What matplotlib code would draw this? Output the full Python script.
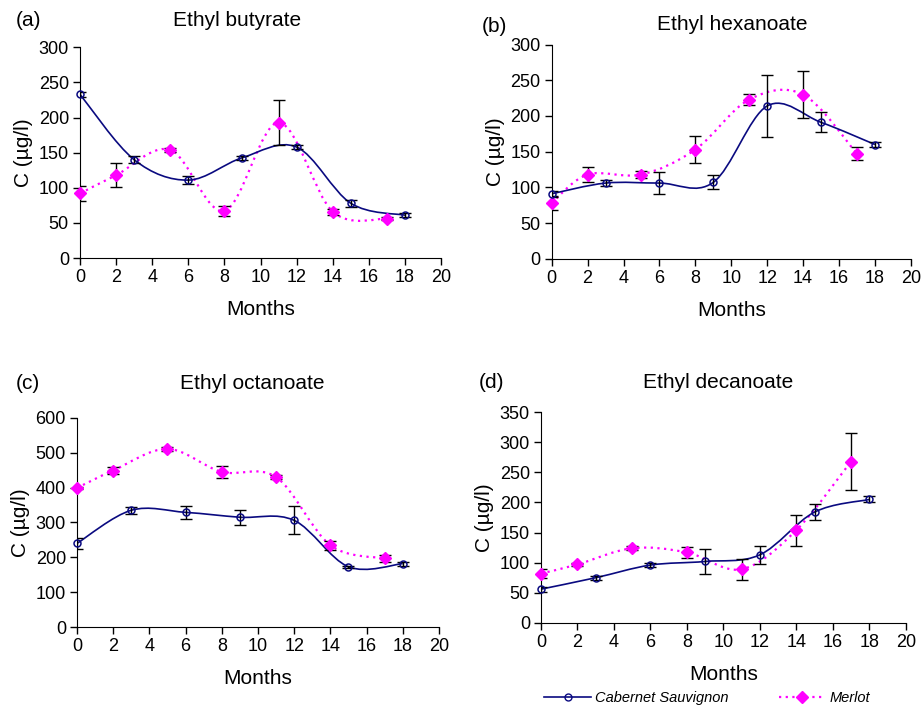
"""Ethyl ester evolution in Cabernet Sauvignon and Merlot wines, 4 panels."""
import matplotlib

matplotlib.use("Agg")
import matplotlib.pyplot as plt  # noqa: E402
from matplotlib.lines import Line2D  # noqa: E402
from matplotlib.patches import PathPatch  # noqa: E402
from matplotlib.path import Path  # noqa: E402
import numpy as np  # noqa: E402

plt.rcParams["font.family"] = ["Liberation Sans", "DejaVu Sans"]

NAVY, MAGENTA = "#0a0a80", "#ff00ff"

# months sampled
cab_months = [0, 3, 6, 9, 12, 15, 18]
mer_months = [0, 2, 5, 8, 11, 14, 17]

# (a) ethyl butyrate
a_cab = [233, 140, 111, 143, 158, 78, 61]
a_cab_err = [4, 5, 6, 3, 3, 5, 3]
a_mer = [92, 118, 154, 67, 193, 66, 56]
a_mer_err = [11, 17, 3, 7, 32, 4, 2]

# (b) ethyl hexanoate
b_cab = [91, 106, 106, 107, 214, 191, 160]
b_cab_err = [4, 4, 15, 10, 43, 14, 4]
b_mer = [78, 118, 118, 153, 223, 230, 147]
b_mer_err = [10, 10, 5, 19, 8, 33, 9]

# (c) ethyl octanoate
c_cab = [240, 335, 329, 315, 306, 173, 182]
c_cab_err = [15, 10, 18, 22, 40, 3, 6]
c_mer = [399, 449, 511, 445, 430, 235, 197]
c_mer_err = [4, 10, 6, 17, 5, 13, 10]

# (d) ethyl decanoate
d_cab = [56, 75, 96, 102, 113, 184, 205]
d_cab_err = [4, 3, 3, 21, 15, 13, 5]
d_mer = [82, 97, 124, 117, 89, 154, 268]
d_mer_err = [8, 2, 3, 9, 17, 26, 47]

panels = [
    ("(a)", "Ethyl butyrate", a_cab, a_cab_err, a_mer, a_mer_err, 300, 50),
    ("(b)", "Ethyl hexanoate", b_cab, b_cab_err, b_mer, b_mer_err, 300, 50),
    ("(c)", "Ethyl octanoate", c_cab, c_cab_err, c_mer, c_mer_err, 600, 100),
    ("(d)", "Ethyl decanoate", d_cab, d_cab_err, d_mer, d_mer_err, 350, 50),
]

# axes rectangles (fig fraction) and title anchors (pixels)
rects = [
    [0.0869, 0.635, 0.392, 0.298],
    [0.599, 0.634, 0.390, 0.303],
    [0.0836, 0.113, 0.393, 0.296],
    [0.5874, 0.119, 0.396, 0.298],
]
label_pos = [(16, 21), (482, 26), (16, 383), (479, 382)]
title_pos = [(237, 21), (732, 25), (252, 383), (718, 382)]


def smooth(ax, x, y, **kw):
    """Excel-like smoothed line: Catmull-Rom as cubic Bezier segments."""
    p = np.column_stack([x, y]).astype(float)
    pts = np.vstack([p[0], p, p[-1]])
    verts, codes = [p[0]], [Path.MOVETO]
    for i in range(1, len(pts) - 2):
        c1 = pts[i] + (pts[i + 1] - pts[i - 1]) / 6
        c2 = pts[i + 1] - (pts[i + 2] - pts[i]) / 6
        verts += [c1, c2, pts[i + 1]]
        codes += [Path.CURVE4] * 3
    ax.add_patch(PathPatch(Path(verts, codes), fill=False, **kw))


fig = plt.figure(figsize=(9.21, 7.07), dpi=100)
W, H = 921, 707
for rect, lp, tp, (lab, title, cab, cab_e, mer, mer_e, ymax, ystep) in zip(
        rects, label_pos, title_pos, panels):
    ax = fig.add_axes(rect)
    smooth(ax, mer_months, mer, edgecolor=MAGENTA, lw=1.6,
           linestyle=(0, (1, 2)), zorder=2)
    smooth(ax, cab_months, cab, edgecolor=NAVY, lw=1.2, zorder=3)
    ax.errorbar(mer_months, mer, yerr=mer_e, fmt="none", ecolor="black",
                elinewidth=1, capsize=4, capthick=1, zorder=4)
    ax.errorbar(cab_months, cab, yerr=cab_e, fmt="none", ecolor="black",
                elinewidth=1, capsize=4, capthick=1, zorder=4)
    ax.plot(mer_months, mer, "D", color=MAGENTA, ms=6, zorder=5, clip_on=False)
    ax.plot(cab_months, cab, "o", mfc="none", mec=NAVY, mew=1.1, ms=5,
            zorder=6, clip_on=False)
    ax.set_xlim(0, 20)
    ax.set_ylim(0, ymax)
    ax.set_xticks(range(0, 21, 2))
    ax.set_yticks(range(0, ymax + 1, ystep))
    for s in ("top", "right"):
        ax.spines[s].set_visible(False)
    ax.tick_params(labelsize=13, length=5, width=1, pad=3)
    ax.set_xlabel("Months", fontsize=15, labelpad=10)
    ax.set_ylabel("C (µg/l)", fontsize=15, labelpad=4)
    fig.text(lp[0] / W, 1 - lp[1] / H, lab, fontsize=15, va="center", ha="left")
    fig.text(tp[0] / W, 1 - tp[1] / H, title, fontsize=15, va="center", ha="center")

handles = [
    Line2D([], [], color=NAVY, lw=1.2, marker="o", mfc="none", mec=NAVY, ms=5),
    Line2D([], [], color=MAGENTA, lw=1.6, linestyle=(0, (1, 2)), marker="D", ms=6),
]
fig.legend(handles, ["Cabernet Sauvignon", "Merlot"], loc="center",
           bbox_to_anchor=(0.768, 1 - 698 / H), ncol=2, frameon=False,
           prop={"style": "italic", "size": 10.5}, handlelength=3.2,
           columnspacing=3.4, handletextpad=0.3)

fig.savefig("out.png", dpi=100)
